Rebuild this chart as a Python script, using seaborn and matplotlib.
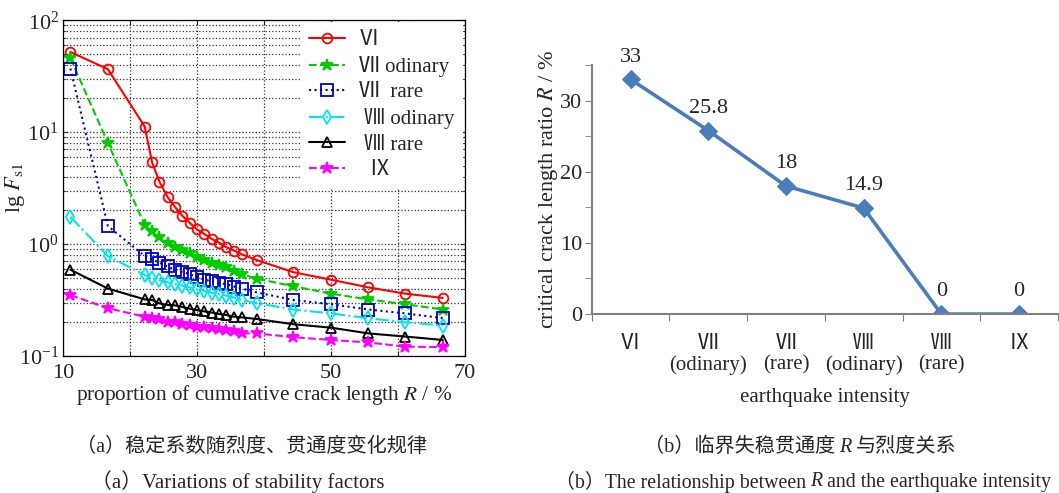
import numpy as np
import pandas as pd
import matplotlib
matplotlib.use('Agg')
import matplotlib.pyplot as plt
import seaborn as sns
from matplotlib.ticker import FixedLocator, LogLocator, NullFormatter

# ---- data ----
crack_ratio = [11.1, 16.7, 22.2, 23.3, 24.4, 25.6, 26.7, 27.8, 28.9, 30.0, 31.1,
               32.2, 33.3, 34.4, 35.6, 36.7, 38.9, 44.4, 50.0, 55.6, 61.1, 66.7]

fs_vi = [52, 36.5, 11.2, 5.36, 3.6, 2.64, 2.15, 1.79, 1.55, 1.35, 1.23,
         1.11, 1.03, 0.935, 0.87, 0.81, 0.72, 0.56, 0.48, 0.41, 0.36, 0.33]
fs_vii_ord = [46, 8.0, 1.48, 1.31, 1.15, 1.03, 0.95, 0.88, 0.83, 0.77, 0.72,
              0.68, 0.645, 0.62, 0.58, 0.54, 0.49, 0.42, 0.36, 0.32, 0.29, 0.26]
fs_vii_rare = [37, 1.45, 0.78, 0.73, 0.68, 0.63, 0.59, 0.56, 0.54, 0.505, 0.48,
               0.465, 0.45, 0.437, 0.416, 0.40, 0.37, 0.316, 0.29, 0.26, 0.24, 0.218]
fs_viii_ord = [1.75, 0.78, 0.53, 0.50, 0.474, 0.455, 0.44, 0.425, 0.41, 0.394, 0.38,
               0.367, 0.358, 0.346, 0.332, 0.316, 0.297, 0.26, 0.24, 0.217, 0.20, 0.187]
fs_viii_rare = [0.59, 0.40, 0.32, 0.316, 0.295, 0.285, 0.283, 0.274, 0.265, 0.256, 0.25,
                0.244, 0.237, 0.232, 0.224, 0.221, 0.214, 0.192, 0.179, 0.159, 0.149, 0.139]
fs_ix = [0.35, 0.267, 0.224, 0.217, 0.214, 0.203, 0.20, 0.193, 0.188, 0.183, 0.18,
         0.177, 0.175, 0.17, 0.167, 0.159, 0.159, 0.147, 0.139, 0.132, 0.121, 0.12]

series_labels = ['Ⅵ', 'Ⅶ odinary', 'Ⅶ  rare', ' Ⅷ odinary', ' Ⅷ rare', '  Ⅸ']

intensity = ['Ⅵ', 'Ⅶ\n(odinary)', 'Ⅶ\n(rare)', 'Ⅷ\n(odinary)', 'Ⅷ\n(rare)', 'Ⅸ']
critical_R = [33, 25.8, 18, 14.9, 0, 0]

# ---- style ----
sns.set_style('ticks')
plt.rcParams['font.family'] = ['Liberation Serif', 'Noto Sans CJK SC', 'DejaVu Sans']
plt.rcParams['mathtext.fontset'] = 'stix'

W, H = 1059, 493
fig = plt.figure(figsize=(W / 100, H / 100), dpi=100)

# ---------------- (a) ----------------
ax1 = fig.add_axes([0.0595, 0.278, 0.3795, 0.681])
styles = [
    dict(color='#ff0000', linestyle='-', marker='o', markersize=7, markerfacecolor='none'),
    dict(color='#00cc00', linestyle='--', marker='*', markersize=9, markerfacecolor='#00cc00'),
    dict(color='#0000cc', linestyle=':', marker='s', markersize=9, markerfacecolor='none'),
    dict(color='#00e5ee', linestyle='-.', marker='d', markersize=7, markerfacecolor='none'),
    dict(color='#000000', linestyle='-', marker='^', markersize=7, markerfacecolor='none'),
    dict(color='#ff00ff', linestyle='--', marker='*', markersize=9, markerfacecolor='#ff00ff'),
]
all_series = [fs_vi, fs_vii_ord, fs_vii_rare, fs_viii_ord, fs_viii_rare, fs_ix]
for vals, lab, st in zip(all_series, series_labels, styles):
    sns.lineplot(x=crack_ratio, y=vals, ax=ax1, label=lab, lw=1.5, sort=False,
                 markeredgecolor=st['color'], markeredgewidth=1.3, **st)

ax1.set_yscale('log')
ax1.set_xlim(10, 70)
ax1.set_ylim(0.1, 100)
ax1.xaxis.set_major_locator(FixedLocator([10, 20, 30, 40, 50, 60, 70]))
ax1.set_xticklabels(['10', '', '30', '', '50', '', '70'])
ax1.yaxis.set_major_locator(LogLocator(base=10))
ax1.yaxis.set_minor_locator(LogLocator(base=10, subs=np.arange(2, 10)))
ax1.yaxis.set_minor_formatter(NullFormatter())
ax1.grid(True, which='major', axis='both', linestyle=':', color='#333333', lw=0.9)
ax1.grid(True, which='minor', axis='y', linestyle=':', color='#333333', lw=0.9)
ax1.tick_params(which='both', direction='in', top=True, right=True, labelsize=16)
ax1.tick_params(axis='x', pad=6)
ax1.tick_params(axis='y', pad=3)
ax1.tick_params(which='minor', length=2)
for sp in ax1.spines.values():
    sp.set_color('black')
    sp.set_linewidth(0.9)
ax1.set_xlabel(r'proportion of cumulative crack length $R$ / %', fontsize=15.3, labelpad=0)
ax1.set_ylabel(r'lg $F_{\rm s1}$', fontsize=16)
ax1.yaxis.set_label_coords(-0.09, 0.5)
leg = ax1.legend(loc='upper right', fontsize=15, frameon=True, handlelength=1.7,
                 handletextpad=0.7, labelspacing=0.28, borderaxespad=0.1, borderpad=0.4)
leg.get_frame().set_facecolor('white')
leg.get_frame().set_edgecolor('none')
leg.get_frame().set_alpha(1)

# ---------------- (b) ----------------
ax2 = fig.add_axes([0.5587, 0.363, 0.4403, 0.505])
pos = list(range(len(intensity)))
sns.lineplot(x=pos, y=critical_R, ax=ax2, color='#4a7ebb', lw=2.6, marker='D',
             markersize=9, markeredgecolor='#4a7ebb', sort=False)
for xi, v in zip(pos, critical_R):
    ax2.annotate(f'{v:g}', (xi, v), xytext=(0, 16), textcoords='offset points',
                 ha='center', va='center', fontsize=16)
ax2.set_xlim(-0.5, 5.5)
ax2.set_ylim(0, 35)
ax2.set_xticks(np.arange(-0.5, 6, 1))
ax2.set_xticklabels([])
ax2.set_xticks(pos, minor=True)
ax2.set_xticklabels(intensity, minor=True, fontsize=15, linespacing=1.1)
ax2.tick_params(axis='x', which='minor', length=0, pad=15)
ax2.tick_params(axis='x', which='major', length=5, color='#808080')
ax2.set_yticks([0, 10, 20, 30])
ax2.set_yticks([5, 15, 25, 35], minor=True)
ax2.tick_params(axis='y', which='both', length=5, color='#808080', labelsize=16, pad=2)
for sp in ['top', 'right']:
    ax2.spines[sp].set_visible(False)
for sp in ['left', 'bottom']:
    ax2.spines[sp].set_color('#808080')
    ax2.spines[sp].set_linewidth(1.5)
ax2.set_xlabel('earthquake intensity', fontsize=15, labelpad=9)
ax2.set_ylabel(r'critical crack length ratio $R$ / %', fontsize=16, labelpad=0)


# ---------------- captions ----------------
def caption(xc, yc, pieces, size, gap=4):
    # pieces: (text, fontstyle); laid out left to right, centred on xc (pixels)
    rend = fig.canvas.get_renderer()
    objs = [fig.text(0, 1 - yc / H, s, fontsize=size, style=st, va='center')
            for s, st in pieces]
    widths = [o.get_window_extent(rend).width for o in objs]
    x = xc - (sum(widths) + gap * (len(objs) - 1)) / 2
    for o, w in zip(objs, widths):
        o.set_x(x / W)
        x += w + gap


caption(252, 447, [('（a）稳定系数随烈度、贯通度变化规律', 'normal')], 14.5)
caption(238, 482, [('（a）Variations of stability factors', 'normal')], 15)
caption(800, 447, [('（b）临界失稳贯通度', 'normal'), ('R', 'italic'), ('与烈度关系', 'normal')], 14.5)
caption(803, 482, [('（b）The relationship between', 'normal'), ('R', 'italic'),
                   ('and the earthquake intensity', 'normal')], 14.3)

fig.savefig('out.png', dpi=100)
